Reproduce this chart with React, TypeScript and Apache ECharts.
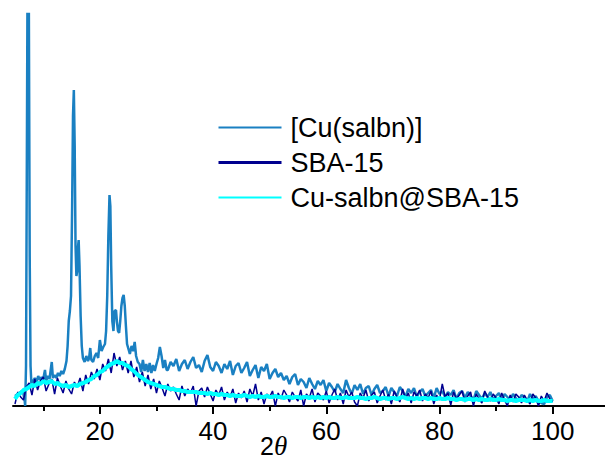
import React, { useEffect, useRef } from "react";
import * as echarts from "echarts";

// Series names
const seriesNames = ["[Cu(salbn)]", "SBA-15", "Cu-salbn@SBA-15"];

// x-axis ticks
const majorTicks = [20, 40, 60, 80, 100];
const minorTicks = [10, 30, 50, 70, 90];

// [Cu(salbn)] — crystalline peak region (2θ, intensity a.u.)
const cuSalbnPeaks: [number, number][] = [
  [5.0, 10], [5.5, 12], [6.0, 14], [6.4, 15], [6.7, 6], [6.8, 0], [6.95, 40], [7.1, 250], [7.2, 400], [7.45, 400],
  [7.6, 150], [7.75, 40], [7.9, 22], [8.2, 25], [8.5, 28], [8.8, 24], [9.1, 30], [9.4, 26], [9.7, 29], [10.0, 27],
  [10.3, 36], [10.5, 25], [10.8, 30], [11.1, 27], [11.5, 44], [11.7, 28], [12.0, 31], [12.3, 28], [12.6, 33], [12.9, 30],
  [13.2, 35], [13.5, 32], [13.8, 37], [14.1, 45], [14.3, 60], [14.5, 85], [14.7, 95], [14.9, 110], [15.1, 200], [15.25, 290],
  [15.4, 316], [15.55, 260], [15.7, 160], [15.85, 130], [16.0, 135], [16.15, 160], [16.25, 166], [16.4, 140], [16.6, 90], [16.8, 60],
  [17.0, 48], [17.3, 44], [17.6, 50], [17.9, 45], [18.1, 48], [18.3, 58], [18.5, 46], [18.8, 44], [19.1, 50], [19.4, 53],
  [19.7, 48], [20.0, 66], [20.3, 55], [20.6, 59], [20.9, 62], [21.1, 75], [21.3, 110], [21.5, 170], [21.7, 211], [21.85, 200],
  [22.0, 140], [22.2, 85], [22.4, 75], [22.6, 95], [22.85, 96], [23.0, 85], [23.2, 75], [23.4, 73], [23.6, 85], [23.8, 100],
  [24.0, 108], [24.2, 111], [24.4, 100], [24.6, 80], [24.8, 62], [25.0, 58], [25.3, 52], [25.6, 60], [25.9, 55], [26.15, 64],
  [26.4, 50], [26.7, 44], [27.0, 42], [27.3, 34], [27.6, 46], [27.9, 35], [28.2, 42], [28.5, 34], [28.8, 43], [29.1, 33],
  [29.4, 41], [29.7, 35], [30.0, 42], [30.3, 48], [30.6, 59], [30.9, 50], [31.2, 38], [31.5, 46], [31.8, 36],
];

// [Cu(salbn)] — tail, 2θ = 32 … 100 in 0.5° steps
const cuSalbnTailStart = 32;
const cuSalbnTailStep = 0.5;
const cuSalbnTail = [
  36, 44, 40, 47, 35, 42, 46, 37, 44, 49, 38, 41, 34, 45, 51, 39, 35, 44, 40, 33,
  42, 37, 45, 31, 40, 43, 33, 38, 44, 30, 36, 41, 28, 39, 35, 42, 27, 33, 37, 29,
  33, 26, 30, 22, 29, 32, 21, 27, 24, 18, 28, 22, 17, 25, 21, 26, 15, 23, 19, 14,
  22, 17, 13, 26, 18, 12, 21, 16, 22, 12, 18, 20, 11, 17, 21, 13, 15, 19, 10, 18,
  14, 10, 19, 15, 9, 17, 13, 18, 9, 14, 17, 10, 13, 16, 8, 18, 12, 15, 9, 14,
  11, 16, 7, 13, 15, 8, 14, 10, 6, 15, 11, 7, 13, 9, 14, 6, 10, 13, 5, 12,
  9, 6, 12, 8, 5, 11, 9, 4, 12, 7, 10, 5, 3, 2, 9, 11, 5,
];

// SBA-15 and Cu-salbn@SBA-15, 2θ = 5 … 100 in 0.5° steps
const scanStart = 5;
const scanStep = 0.5;
const sba15 = [
  2, 14, 9, 6, 19, 23, 11, 27, 16, 25,
  29, 15, 22, 27, 12, 28, 20, 13, 25, 17,
  12, 24, 19, 28, 15, 31, 22, 34, 27, 37,
  26, 42, 35, 47, 33, 53, 40, 49, 36, 45,
  33, 45, 29, 39, 24, 34, 20, 31, 17, 27,
  13, 25, 18, 10, 22, 15, 19, 12, 6, 20,
  10, 17, 13, 20, 0, 15, 18, 9, 19, 12,
  5, 16, 11, 19, 6, 14, 9, 17, 3, 13,
  8, 15, 4, 17, 10, 22, 6, 14, 2, 12,
  9, 15, 0, 13, 7, 16, 11, 4, 14, 9,
  5, 16, 0, 12, 8, 17, 4, 13, 10, 6,
  15, 3, 11, 17, 6, 13, 2, 16, 9, 14,
  4, 0, 13, 8, 16, 5, 11, 14, 3, 10,
  16, 6, 12, 2, 15, 9, 4, 17, 7, 13,
  3, 14, 10, 16, 5, 12, 8, 15, 2, 11,
  6, 22, 9, 13, 1, 14, 7, 11, 15, 4,
  10, 14, 0, 12, 7, 3, 15, 9, 5, 12,
  8, 2, 13, 6, 0, 11, 4, 12, 9, 3,
  11, 6, 2, 12, 8, 0, 10, 5, 13, 7,
  4,
];
const cuSalbnSba15 = [
  7, 11, 13, 16, 17, 19, 21, 20, 23, 22,
  25, 23, 24, 25, 22, 23, 21, 20, 21, 19,
  20, 21, 20, 22, 23, 24, 26, 27, 30, 31,
  34, 35, 38, 40, 42, 43, 45, 43, 43, 41,
  40, 37, 35, 32, 30, 28, 26, 24, 23, 22,
  21, 20, 19, 19, 18, 17, 17, 16, 16, 15,
  15, 14, 14, 14, 14, 13, 13, 13, 12, 13,
  12, 12, 11, 12, 11, 11, 10, 11, 10, 10,
  10, 11, 10, 9, 10, 9, 10, 9, 9, 10,
  9, 9, 10, 9, 9, 8, 9, 9, 8, 9,
  9, 8, 9, 9, 8, 9, 8, 9, 8, 9,
  8, 9, 8, 8, 9, 8, 8, 9, 8, 8,
  8, 9, 8, 8, 7, 8, 8, 9, 8, 7,
  8, 8, 7, 8, 8, 7, 8, 9, 8, 7,
  8, 7, 8, 7, 8, 8, 7, 8, 7, 7,
  8, 7, 7, 8, 7, 7, 6, 7, 7, 6,
  7, 7, 6, 7, 6, 7, 6, 6, 7, 6,
  6, 7, 6, 6, 5, 6, 6, 5, 6, 6,
  6, 5, 6, 5, 6, 5, 5, 6, 5, 5,
  5,
];

const colors = ["#1a80c2", "#00008f", "#00ffff"];
const SANS = "'Liberation Sans', Arial, Helvetica, sans-serif";

export default function App() {
  const ref = useRef<HTMLDivElement>(null);
  useEffect(() => {
    if (!ref.current) return;
    const chart = echarts.init(ref.current, undefined, { renderer: "svg" });

    const cuData = [
      ...cuSalbnPeaks,
      ...cuSalbnTail.map((y, i) => [cuSalbnTailStart + i * cuSalbnTailStep, y]),
    ];
    const sbaData = sba15.map((y, i) => [scanStart + i * scanStep, y]);
    const cuSbaData = cuSalbnSba15.map((y, i) => [scanStart + i * scanStep, y]);

    const xMin = 4.65;
    const xMax = 109.25;

    chart.setOption({
      animation: false,
      backgroundColor: "#ffffff",
      grid: { left: 13, right: 0, top: 14, bottom: 56, containLabel: false },
      xAxis: [
        {
          type: "value",
          min: xMin,
          max: xMax,
          position: "bottom",
          axisLine: { show: true, lineStyle: { color: "#000", width: 2 } },
          axisTick: {
            show: true,
            customValues: majorTicks,
            length: 8,
            lineStyle: { color: "#000", width: 2 },
          },
          axisLabel: {
            show: true,
            customValues: majorTicks,
            fontSize: 26,
            fontFamily: SANS,
            color: "#000",
            margin: 12,
          },
          splitLine: { show: false },
        },
        {
          type: "value",
          min: xMin,
          max: xMax,
          position: "bottom",
          axisLine: { show: false },
          axisTick: {
            show: true,
            customValues: minorTicks,
            length: 5,
            lineStyle: { color: "#000", width: 2 },
          },
          axisLabel: { show: false },
          splitLine: { show: false },
        },
      ],
      yAxis: { type: "value", min: 0, max: 392, show: false },
      legend: {
        orient: "vertical",
        left: 212,
        top: 109,
        itemWidth: 63,
        itemHeight: 14,
        itemGap: 8,
        itemStyle: { opacity: 0 },
        textStyle: {
          fontSize: 27,
          fontFamily: SANS,
          color: "#000",
          lineHeight: 26,
          padding: [0, 0, 0, 4],
        },
        data: [
          { name: seriesNames[0], lineStyle: { width: 2 } },
          { name: seriesNames[1], lineStyle: { width: 3 } },
          { name: seriesNames[2], lineStyle: { width: 2 } },
        ],
      },
      series: [
        {
          name: seriesNames[0],
          type: "line",
          data: cuData,
          symbol: "none",
          showSymbol: false,
          lineStyle: { color: colors[0], width: 2.5 },
          itemStyle: { color: colors[0] },
          clip: true,
        },
        {
          name: seriesNames[1],
          type: "line",
          data: sbaData,
          symbol: "none",
          showSymbol: false,
          lineStyle: { color: colors[1], width: 1.5 },
          itemStyle: { color: colors[1] },
          clip: true,
        },
        {
          name: seriesNames[2],
          type: "line",
          data: cuSbaData,
          symbol: "none",
          showSymbol: false,
          lineStyle: { color: colors[2], width: 4 },
          itemStyle: { color: colors[2] },
          clip: true,
        },
      ],
      graphic: [
        {
          type: "text",
          left: 260,
          top: 432,
          style: {
            text: "{a|2}{b|θ}",
            rich: {
              a: { fontSize: 25, lineHeight: 26, fontFamily: SANS, fill: "#000" },
              b: {
                fontSize: 27,
                lineHeight: 26,
                fontFamily: "'Liberation Serif', 'Times New Roman', serif",
                fontStyle: "italic",
                fill: "#000",
              },
            },
          },
        },
      ],
    });
    return () => chart.dispose();
  }, []);

  return (
    <div
      ref={ref}
      style={{ position: "fixed", left: 0, top: 0, width: 605, height: 462 }}
    />
  );
}
